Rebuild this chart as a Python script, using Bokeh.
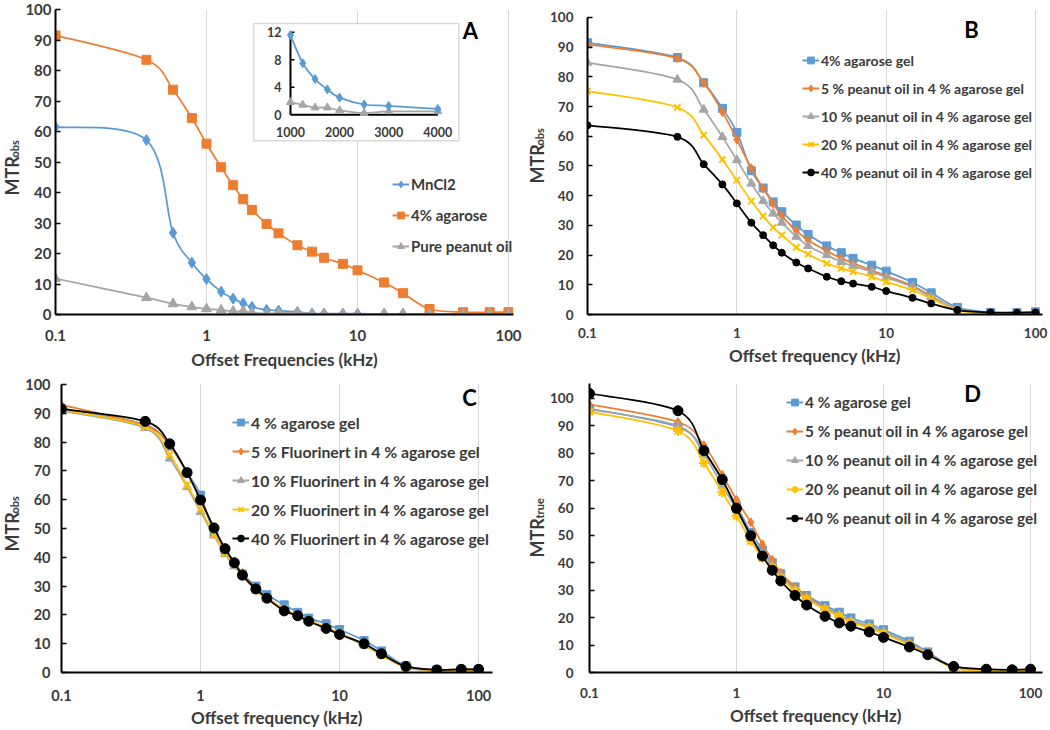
import numpy as np
from bokeh.plotting import figure
from bokeh.models import (Range1d, FixedTicker, NumeralTickFormatter, Legend, LegendItem,
                          Label, LinearScale, ColumnDataSource)
from bokeh.layouts import row, column
from bokeh.embed import file_html
from bokeh.resources import INLINE
from bokeh.core.properties import value

# ---------------- data ----------------
freq = [0.1, 0.4, 0.6, 0.8, 1, 1.25, 1.5, 1.75, 2, 2.5, 3, 4, 5, 6, 8, 10, 15, 20, 30, 50, 75, 100]
x_ticks = [0.1, 1, 10, 100]
y_ticks = [0, 10, 20, 30, 40, 50, 60, 70, 80, 90, 100]

# Panel A
a_labels = ["MnCl2", "4% agarose", "Pure peanut oil"]
a_mncl2 = [61.5, 57.2, 26.8, 17.0, 11.6, 7.5, 5.2, 3.7, 2.5, 1.5, 1.3, 0.85, 0.3, 0.3, 0.25, 0.25, 0.2, 0.2, 0.2, 0.2, 0.2, 0.2]
a_agarose = [91.5, 83.5, 73.7, 64.4, 56.0, 48.3, 42.4, 37.8, 34.3, 29.7, 26.6, 22.7, 20.6, 18.6, 16.6, 14.5, 10.5, 7.0, 1.8, 0.75, 0.75, 0.75]
a_peanut = [11.8, 5.5, 3.5, 2.5, 1.85, 1.45, 1.05, 1.05, 0.65, 0.25, 0.5, 0.5, 0.2, 0.2, 0.2, 0.2, 0.2, 0.2, 0.2, 0.2, 0.2, 0.2]
inset_x_ticks = [1000, 2000, 3000, 4000]
inset_y_ticks = [0, 4, 8, 12]

# Panel B
b_labels = ["4% agarose gel", "5 % peanut oil in 4 % agarose gel", "10 % peanut oil in 4 % agarose gel",
            "20 % peanut oil in 4 % agarose gel", "40 % peanut oil in 4 % agarose gel"]
b_agar = [91.5, 86.5, 78.0, 69.4, 61.3, 48.4, 42.6, 37.9, 34.6, 30.1, 26.9, 23.1, 20.8, 18.9, 16.6, 14.6, 10.8, 7.3, 2.4, 0.7, 0.7, 0.9]
b_p5 = [90.9, 86.2, 78.0, 68.2, 58.9, 49.2, 42.4, 37.4, 33.2, 28.2, 25.0, 21.4, 18.9, 17.2, 14.9, 13.0, 9.7, 6.2, 1.7, 0.3, 0.3, 0.5]
b_p10 = [84.8, 79.1, 69.0, 59.8, 52.0, 44.1, 38.2, 34.0, 30.9, 26.2, 23.1, 20.0, 17.7, 16.3, 14.4, 12.5, 9.3, 5.9, 1.7, 0.3, 0.4, 0.4]
b_p20 = [75.2, 69.7, 60.4, 52.2, 45.2, 38.2, 33.1, 29.3, 26.7, 22.6, 20.3, 17.2, 15.5, 14.4, 12.7, 11.0, 8.2, 5.4, 1.5, 0.1, 0.3, 0.5]
b_p40 = [63.7, 59.8, 50.6, 43.8, 37.4, 30.9, 26.7, 23.3, 20.8, 17.5, 15.5, 12.7, 11.2, 10.4, 9.3, 7.9, 5.6, 3.7, 1.5, 0.7, 0.6, 0.7]

# Panel C
c_labels = ["4 % agarose gel", "5 % Fluorinert in 4 % agarose gel", "10 % Fluorinert in 4 % agarose gel",
            "20 % Fluorinert in 4 % agarose gel", "40 % Fluorinert in 4 % agarose gel"]
c_agar = [91.7, 86.0, 78.6, 69.4, 61.6, 48.2, 42.4, 37.8, 34.2, 30.0, 27.0, 23.5, 20.9, 18.9, 16.9, 14.9, 11.1, 7.5, 2.3, 0.9, 1.1, 1.1]
c_f5 = [92.9, 85.7, 78.8, 69.4, 60.2, 49.9, 43.0, 38.1, 34.6, 29.1, 26.0, 21.8, 19.8, 18.0, 15.5, 13.4, 9.7, 6.5, 2.1, 0.9, 1.1, 1.1]
c_f10 = [90.8, 84.9, 74.3, 64.4, 55.8, 47.6, 41.1, 36.9, 33.6, 28.4, 25.5, 21.8, 19.5, 17.8, 15.5, 13.5, 9.4, 6.1, 1.7, 0.6, 0.6, 0.6]
c_f20 = [91.2, 85.4, 75.7, 65.1, 56.8, 47.9, 41.6, 37.5, 34.2, 28.7, 25.8, 22.1, 19.8, 18.1, 15.7, 13.8, 9.7, 6.1, 1.9, 0.6, 0.9, 0.9]
c_f40 = [91.5, 87.2, 79.4, 69.4, 59.9, 50.2, 43.0, 38.1, 33.8, 29.0, 25.8, 21.4, 19.7, 17.8, 15.3, 13.2, 10.0, 6.5, 2.1, 0.9, 1.1, 1.1]

# Panel D
d_labels = ["4 % agarose gel", "5 % peanut oil in 4 % agarose gel", "10 % peanut oil in 4 % agarose gel",
            "20 % peanut oil in 4 % agarose gel", "40 % peanut oil in 4 % agarose gel"]
d_agar = [96.3, 89.6, 80.7, 70.0, 60.9, 51.1, 44.7, 40.1, 36.0, 31.2, 28.1, 24.4, 22.0, 19.9, 17.7, 15.6, 11.4, 7.5, 2.0, 0.7, 0.7, 0.7]
d_p5 = [97.8, 91.4, 82.9, 72.1, 63.0, 54.8, 46.8, 41.1, 36.4, 31.3, 27.9, 23.6, 21.1, 18.7, 16.6, 14.4, 10.5, 7.1, 1.8, 0.7, 0.7, 0.7]
d_p10 = [96.0, 90.0, 79.5, 68.2, 59.4, 49.5, 43.4, 39.1, 35.5, 30.3, 27.3, 23.6, 21.1, 19.1, 16.9, 14.8, 10.8, 7.1, 1.8, 0.6, 0.6, 0.6]
d_p20 = [95.1, 88.1, 76.4, 65.8, 57.2, 48.0, 41.9, 38.3, 34.6, 29.7, 26.7, 23.0, 20.5, 18.3, 16.3, 14.2, 10.1, 6.7, 1.6, 0.6, 0.6, 0.6]
d_p40 = [101.8, 95.5, 81.0, 70.4, 59.9, 49.9, 42.5, 37.3, 33.4, 28.1, 24.6, 20.5, 18.1, 16.9, 14.8, 12.8, 9.3, 6.5, 2.2, 1.2, 1.0, 1.2]

# ---------------- styles ----------------
BLUE, ORANGE, GRAY, YELLOW, BLACK = "#5B9BD5", "#ED7D31", "#A5A5A5", "#FFC000", "#000000"
TXT = "#3a3a3a"
FONT = "Lato"

# row geometry (canvas px): top row 0..372, bottom row 372..730
H1, H2 = 372, 358
T1, BB1 = 9, 56        # top row frames: 9 .. 316
T2, BB2 = 11, 57       # bottom row frames: 383 .. 673


def bezier_source(x, y, logx=True):
    X = np.log10(np.asarray(x, float)) if logx else np.asarray(x, float)
    Y = np.asarray(y, float)
    Xp = np.concatenate([[X[0]], X, [X[-1]]])
    Yp = np.concatenate([[Y[0]], Y, [Y[-1]]])
    x0, y0, x1, y1, cx0, cy0, cx1, cy1 = [], [], [], [], [], [], [], []
    for i in range(len(X) - 1):
        pxp, pyp = Xp[i], Yp[i]
        pxa, pya = Xp[i + 1], Yp[i + 1]
        pxb, pyb = Xp[i + 2], Yp[i + 2]
        pxn, pyn = Xp[i + 3], Yp[i + 3]
        x0.append(pxa); y0.append(pya); x1.append(pxb); y1.append(pyb)
        cx0.append(pxa + (pxb - pxp) / 6.0); cy0.append(pya + (pyb - pyp) / 6.0)
        cx1.append(pxb - (pxn - pxa) / 6.0); cy1.append(pyb - (pyn - pya) / 6.0)
    f = (lambda v: list(10 ** np.asarray(v))) if logx else (lambda v: list(v))
    return ColumnDataSource(dict(x0=f(x0), y0=y0, x1=f(x1), y1=y1,
                                 cx0=f(cx0), cy0=cy0, cx1=f(cx1), cy1=cy1))


def make_panel(width, height, x_end, y_end, bl, br, bt, bb, tick_font, xlabel, lab_standoff, y_standoff,
               title_standoff, y_bounds="auto"):
    p = figure(width=width, height=height, x_axis_type="log",
               x_range=Range1d(0.1, x_end), y_range=Range1d(0, y_end),
               output_backend="svg", toolbar_location=None,
               min_border_left=bl, min_border_right=br, min_border_top=bt, min_border_bottom=bb)
    p.outline_line_color = None
    p.background_fill_color = "white"
    p.border_fill_color = "white"
    xt = FixedTicker(ticks=x_ticks)
    p.xaxis.ticker = xt
    p.xgrid.ticker = xt
    p.xaxis.formatter = NumeralTickFormatter(format="0.[0]")
    p.xgrid.grid_line_color = "#d9d9d9"
    p.xgrid.grid_line_width = 1
    p.ygrid.visible = False
    p.yaxis.ticker = FixedTicker(ticks=y_ticks)
    p.yaxis.bounds = y_bounds
    for ax in (p.xaxis, p.yaxis):
        ax.axis_line_color = "black"
        ax.axis_line_width = 2
        ax.major_tick_line_color = "black"
        ax.major_tick_line_width = 1.5
        ax.minor_tick_in = 0
        ax.minor_tick_out = 0
        ax.major_label_text_font = FONT
        ax.major_label_text_font_style = "bold"
        ax.major_label_text_font_size = tick_font
        ax.major_label_text_color = TXT
    p.xaxis.major_tick_in = 0
    p.xaxis.major_tick_out = 0
    p.yaxis.major_tick_in = 5
    p.yaxis.major_tick_out = 0
    p.xaxis.major_label_standoff = lab_standoff
    p.yaxis.major_label_standoff = y_standoff
    p.xaxis.axis_label = xlabel
    p.xaxis.axis_label_text_font = FONT
    p.xaxis.axis_label_text_font_style = "bold"
    p.xaxis.axis_label_text_font_size = "17px"
    p.xaxis.axis_label_text_color = TXT
    p.xaxis.axis_label_standoff = title_standoff
    return p


def make_ytitle(width, height, bt, bb, x, y_main, y_sub, sub):
    t = figure(width=width, height=height, x_range=Range1d(0, 1), y_range=Range1d(0, 1),
               x_axis_location=None, y_axis_location=None, output_backend="svg", toolbar_location=None,
               min_border_left=0, min_border_right=0, min_border_top=bt, min_border_bottom=bb)
    t.grid.visible = False
    t.outline_line_color = None
    t.add_layout(Label(x=x, y=y_main, x_units="screen", y_units="screen", text="MTR", angle=np.pi / 2,
                       text_font=FONT, text_font_style="bold", text_font_size="18px",
                       text_color=TXT, text_align="left", text_baseline="middle"))
    t.add_layout(Label(x=x + 2.5, y=y_sub, x_units="screen", y_units="screen", text=sub, angle=np.pi / 2,
                       text_font=FONT, text_font_style="bold", text_font_size="11px",
                       text_color=TXT, text_align="left", text_baseline="middle"))
    return t


def add_series(p, x, y, color, marker, size, lw=1.75, logx=True, xr="default", yr="default"):
    src = bezier_source(x, y, logx)
    p.bezier(x0="x0", y0="y0", x1="x1", y1="y1", cx0="cx0", cy0="cy0", cx1="cx1", cy1="cy1",
             source=src, line_color=color, line_width=lw, x_range_name=xr, y_range_name=yr)
    line_only = marker in ("x", "asterisk")
    return p.scatter(x=list(x), y=list(y), marker=marker, size=size, fill_color=color, line_color=color,
                     line_width=2 if line_only else 1, x_range_name=xr, y_range_name=yr)


def legend_item(p, label, color, scatter_renderer):
    dl = p.line(x=[np.nan], y=[np.nan], line_color=color, line_width=2)
    return LegendItem(label=label, renderers=[dl, scatter_renderer])


def add_legend(p, items, loc, spacing, font_size):
    lg = Legend(items=items, location=loc, orientation="vertical",
                background_fill_alpha=0, border_line_alpha=0,
                label_text_font=FONT, label_text_font_style="bold",
                label_text_font_size=font_size, label_text_color=TXT,
                glyph_width=17, glyph_height=20, label_height=20,
                spacing=int(spacing), padding=0, margin=0, label_standoff=2)
    p.add_layout(lg)


def add_letter(p, x, y, t):
    p.add_layout(Label(x=x, y=y, x_units="screen", y_units="screen", text=t,
                       text_font=FONT, text_font_style="bold", text_font_size="22px",
                       text_color="black", text_align="center", text_baseline="middle"))


markers5 = ["square", "diamond", "triangle", "x", "circle"]
markersD = ["square", "diamond", "triangle", "asterisk", "circle"]
colors5 = [BLUE, ORANGE, GRAY, YELLOW, BLACK]
fbot1 = H1 - BB1            # 316
fbot2 = H1 + H2 - BB2       # 673 (page)

# ---------------- Panel A (canvas x 22..525) ----------------
tA = make_ytitle(22, H1, T1, BB1, 11, fbot1 - 197, fbot1 - 159, "obs")
A_OFF, A_BL, A_BR, A_W = 22, 31, 12, 503
pA = make_panel(A_W, H1, 107.9, 100, A_BL, A_BR, T1, BB1, "15px", "Offset Frequencies (kHz)", 15, 4, 5)
sA = [add_series(pA, freq, a_mncl2, BLUE, "diamond", 11),
      add_series(pA, freq, a_agarose, ORANGE, "square", 9),
      add_series(pA, freq, a_peanut, GRAY, "triangle", 10)]

# inset drawn inside panel A's frame through extra linear ranges (page px)
fl, fr = A_OFF + A_BL, A_OFF + A_W - A_BR
ft, fb = T1, fbot1
ax_x0, ax_x1 = 289, 437          # inset x axis pixel extent
ax_y0, ax_y1 = 115, 32           # inset y axis pixel extent
box_l, box_r, box_t, box_b = 252, 458, 23, 141
kx = (inset_x_ticks[-1] - inset_x_ticks[0]) / (ax_x1 - ax_x0)
ky = (inset_y_ticks[-1] - inset_y_ticks[0]) / (ax_y0 - ax_y1)
px2ix = lambda px: inset_x_ticks[0] + (px - ax_x0) * kx
py2iy = lambda py: inset_y_ticks[0] + (ax_y0 - py) * ky
pA.extra_x_ranges = {"ix": Range1d(px2ix(fl), px2ix(fr))}
pA.extra_x_scales = {"ix": LinearScale()}
pA.extra_y_ranges = {"iy": Range1d(py2iy(fb), py2iy(ft))}
pA.quad(left=[px2ix(box_l)], right=[px2ix(box_r)], bottom=[py2iy(box_b)], top=[py2iy(box_t)],
        fill_color="white", line_color="#d9d9d9", line_width=1.5, x_range_name="ix", y_range_name="iy")
ins_x = [f * 1000 for f in freq if 1 <= f <= 4]
ins_blue = [v for f, v in zip(freq, a_mncl2) if 1 <= f <= 4]
ins_gray = [v for f, v in zip(freq, a_peanut) if 1 <= f <= 4]
pA.segment(x0=[inset_x_ticks[0]], y0=[inset_y_ticks[0]], x1=[inset_x_ticks[0]], y1=[inset_y_ticks[-1]],
           line_color="black", line_width=2, x_range_name="ix", y_range_name="iy")
pA.segment(x0=[inset_x_ticks[0]], y0=[inset_y_ticks[0]], x1=[inset_x_ticks[-1]], y1=[inset_y_ticks[0]],
           line_color="black", line_width=2, x_range_name="ix", y_range_name="iy")
pA.segment(x0=[inset_x_ticks[0]] * 3, y0=inset_y_ticks[1:], x1=[inset_x_ticks[0] + 4 * kx] * 3,
           y1=inset_y_ticks[1:], line_color="black", line_width=1.5, x_range_name="ix", y_range_name="iy")
add_series(pA, ins_x, ins_gray, GRAY, "triangle", 8, lw=1.75, logx=False, xr="ix", yr="iy")
add_series(pA, ins_x, ins_blue, BLUE, "diamond", 9, lw=1.75, logx=False, xr="ix", yr="iy")
pA.text(x=[inset_x_ticks[0]] * 4, y=inset_y_ticks, text=[str(v) for v in inset_y_ticks],
        x_offset=-9, text_align="right", text_baseline="middle", text_font=value(FONT),
        text_font_style="bold", text_font_size="12.5px", text_color=TXT, x_range_name="ix", y_range_name="iy")
pA.text(x=inset_x_ticks, y=[inset_y_ticks[0]] * 4, text=[str(v) for v in inset_x_ticks],
        y_offset=17, text_align="center", text_baseline="middle", text_font=value(FONT),
        text_font_style="bold", text_font_size="12.5px", text_color=TXT, x_range_name="ix", y_range_name="iy")

add_legend(pA, [legend_item(pA, l, c, s) for l, c, s in zip(a_labels, [BLUE, ORANGE, GRAY], sA)],
           (390 - fl, fbot1 - 258), 11, "15px")
add_letter(pA, 468 - fl, fbot1 - 32, "A")

# ---------------- Panel B (canvas x 547..1050) ----------------
tB = make_ytitle(22, H1, T1, BB1, 11, fbot1 - 185, fbot1 - 147, "obs")
B_OFF, B_BL, B_BR, B_W = 547, 38, 8, 503
bfl = B_OFF + B_BL
pB = make_panel(B_W, H1, 111.3, 100 * (fbot1 - T1) / (fbot1 - 17), B_BL, B_BR, T1, BB1, "13.5px",
                "Offset frequency (kHz)", 13, 14, 4, y_bounds=(0, 100))
sB = [add_series(pB, freq, ys, c, m, s)
      for ys, c, m, s in zip([b_agar, b_p5, b_p10, b_p20, b_p40], colors5, markers5, [8, 9, 9, 9, 7])]
add_legend(pB, [legend_item(pB, l, c, s) for l, c, s in zip(b_labels, colors5, sB)],
           (800 - bfl, fbot1 - 184), 8, "14px")
add_letter(pB, 969 - bfl, fbot1 - 31, "B")

# ---------------- Panel C (canvas x 22..525) ----------------
tC = make_ytitle(22, H2, T2, BB2, 11, fbot2 - 552, fbot2 - 514, "obs")
C_OFF, C_BL, C_BR, C_W = 22, 37, 33, 503
cfl = C_OFF + C_BL
pC = make_panel(C_W, H2, 125.8, 100 * (fbot2 - (H1 + T2)) / (fbot2 - 384), C_BL, C_BR, T2, BB2, "14.5px",
                "Offset frequency (kHz)", 17, 11, 3, y_bounds=(0, 100))
sC = [add_series(pC, freq, ys, c, m, s)
      for ys, c, m, s in zip([c_agar, c_f5, c_f10, c_f20, c_f40], colors5, markers5, [8, 9, 9, 10, 10])]
add_legend(pC, [legend_item(pC, l, c, s) for l, c, s in zip(c_labels, colors5, sC)],
           (230 - cfl, fbot2 - 549), 9, "15.8px")
add_letter(pC, 467 - cfl, fbot2 - 398, "C")

# ---------------- Panel D (canvas x 547..1050) ----------------
tD = make_ytitle(22, H2, T2, BB2, 11, fbot2 - 558, fbot2 - 519, "true")
D_OFF, D_BL, D_BR, D_W = 547, 40, 8, 503
dfl = D_OFF + D_BL
pD = make_panel(D_W, H2, 120.6, 100 * (fbot2 - (H1 + T2)) / (fbot2 - 398), D_BL, D_BR, T2, BB2, "13.5px",
                "Offset frequency (kHz)", 15, 16, 4)
sD = [add_series(pD, freq, ys, c, m, s)
      for ys, c, m, s in zip([d_agar, d_p5, d_p10, d_p20, d_p40], colors5, markersD, [8, 9, 9, 10, 10])]
add_legend(pD, [legend_item(pD, l, c, s) for l, c, s in zip(d_labels, colors5, sD)],
           (784 - dfl, fbot2 - 529), 9, "15.4px")
add_letter(pD, 970 - dfl, fbot2 - 394, "D")

layout = column(row(tA, pA, tB, pB), row(tC, pC, tD, pD))
open("out.html", "w").write(file_html(layout, INLINE))
